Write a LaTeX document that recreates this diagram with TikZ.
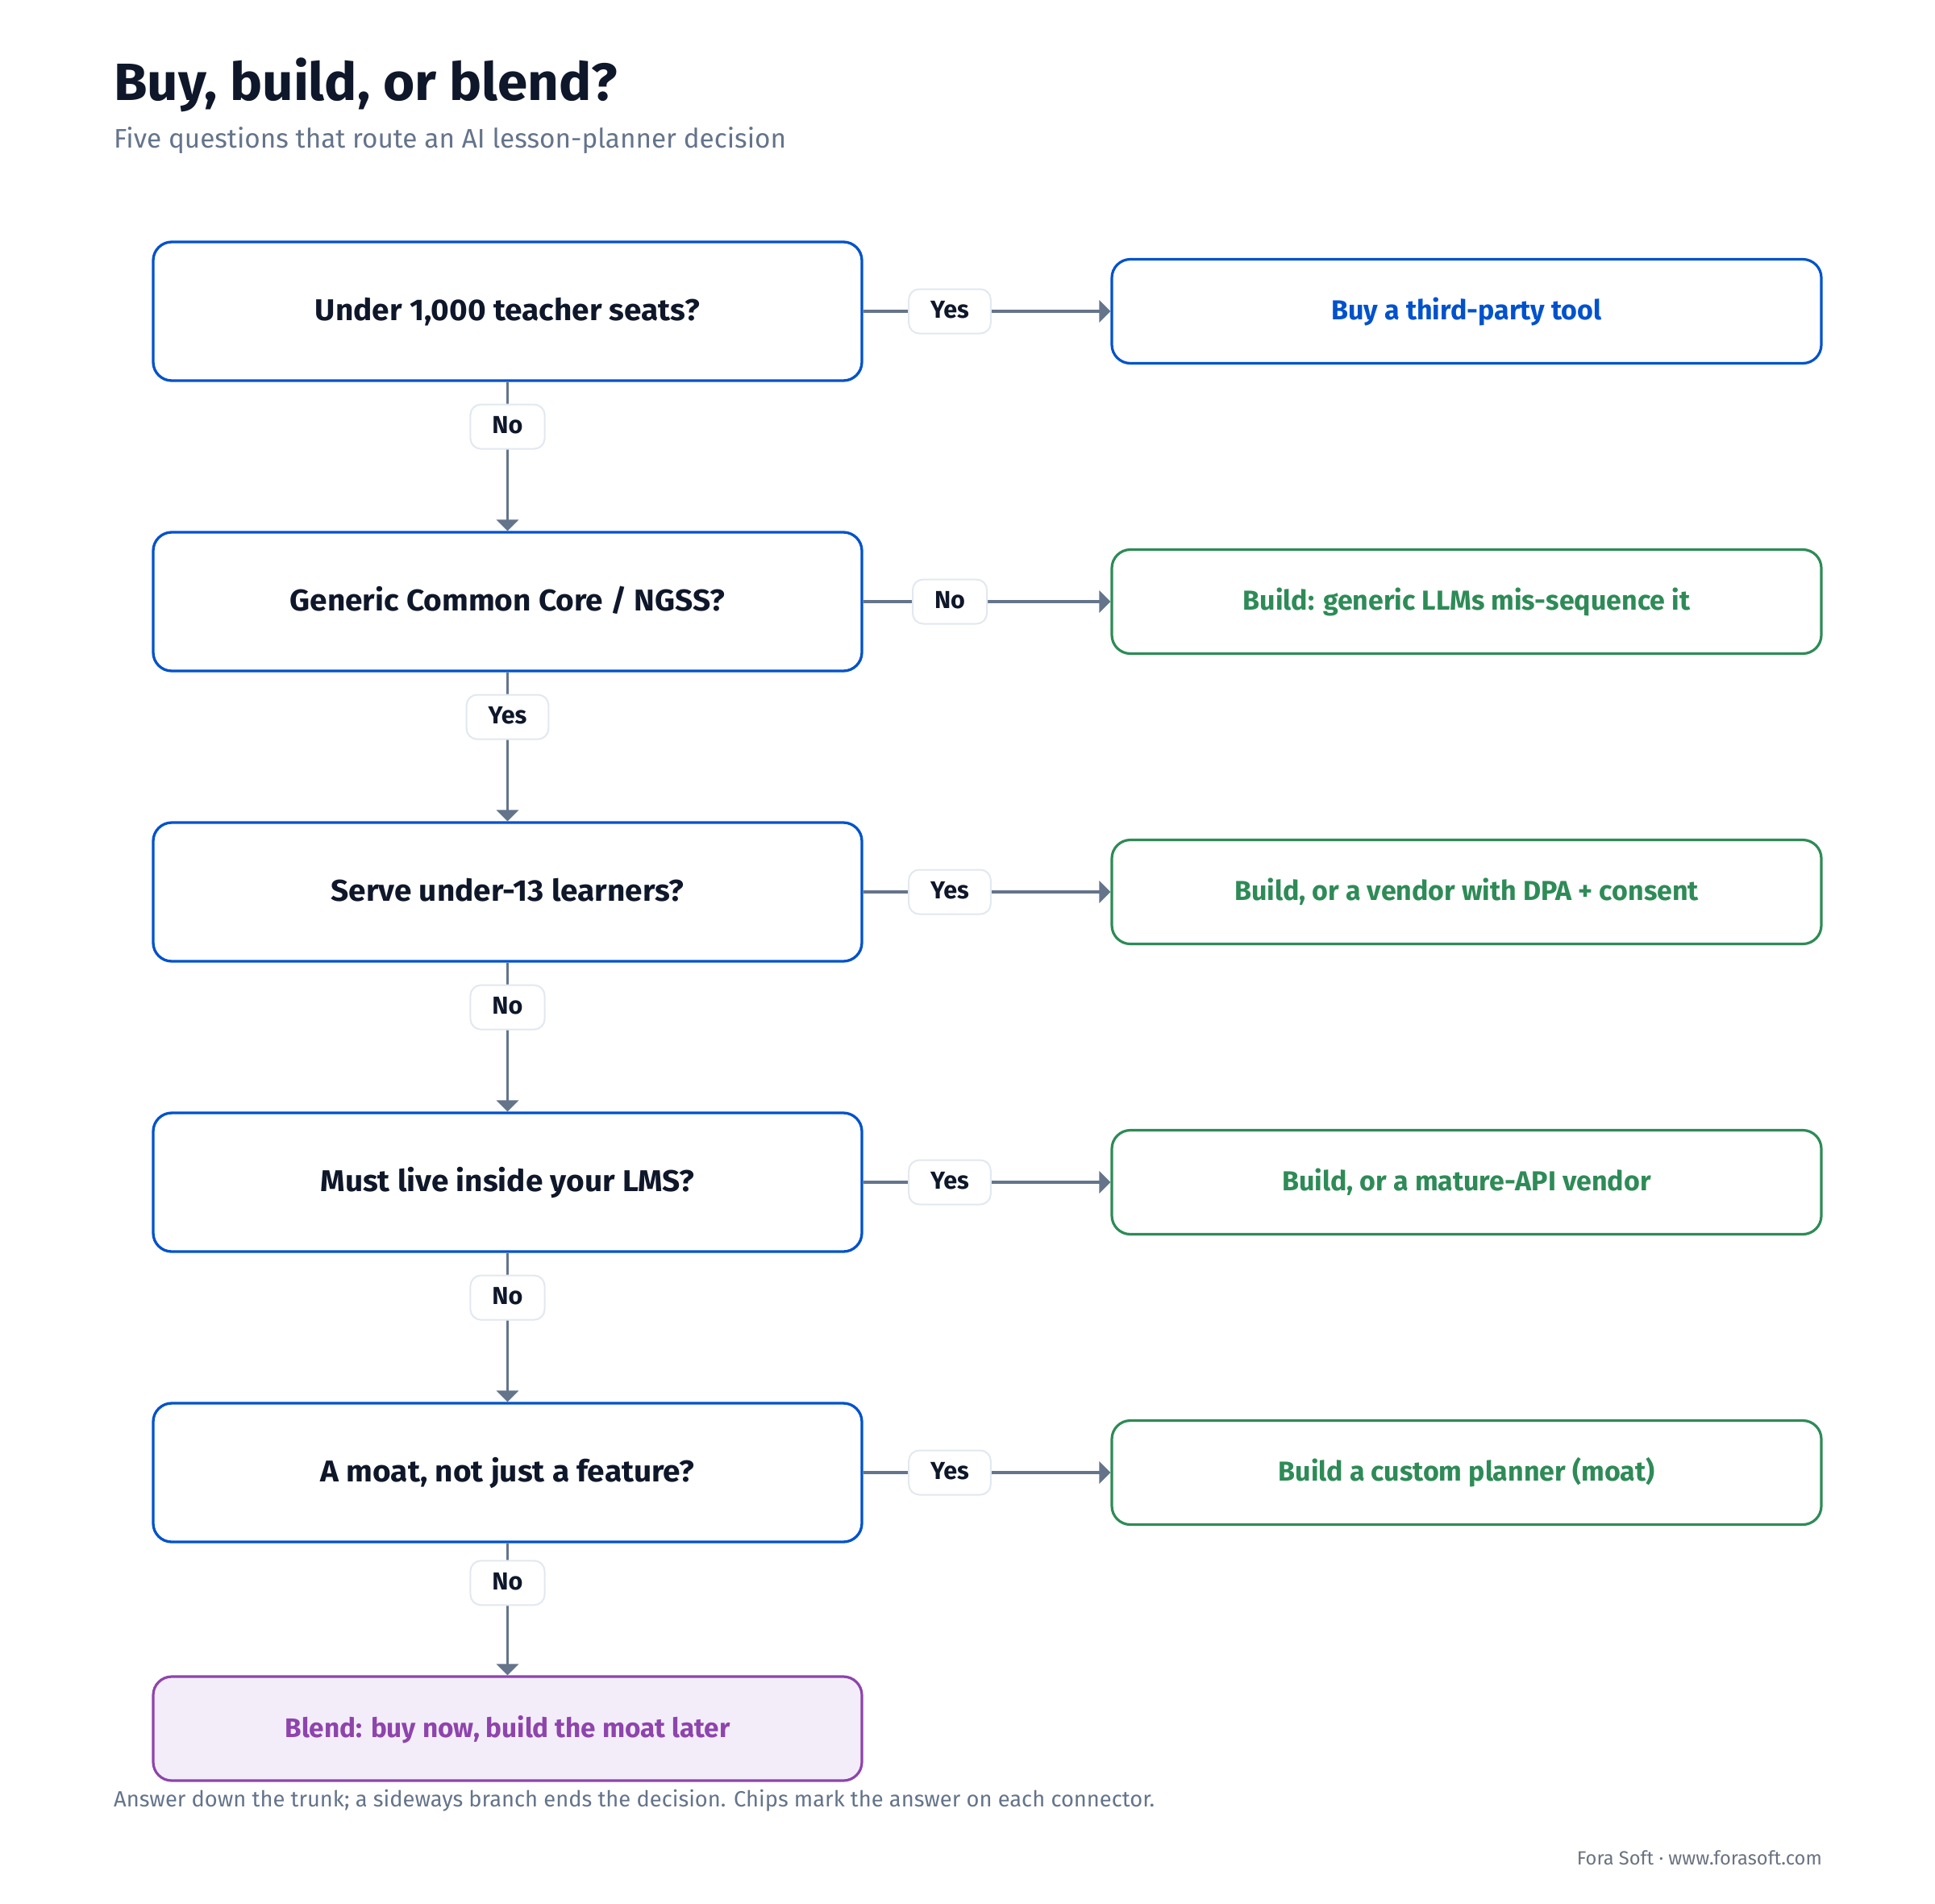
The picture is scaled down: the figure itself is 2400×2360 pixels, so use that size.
\documentclass[tikz,border=0pt]{standalone}
\usepackage{fontspec}
\setmainfont{Fira Sans}
\newfontfamily\qfont{Fira Sans}[FakeStretch=1.04]
\newfontfamily\titlefont{Fira Sans}[FakeStretch=1.035]
\usetikzlibrary{arrows.meta}
\definecolor{ink}{HTML}{0F172A}
\definecolor{slate}{HTML}{64748B}
\definecolor{qblue}{HTML}{0052CC}
\definecolor{okgreen}{HTML}{2E8B57}
\definecolor{blendpurple}{HTML}{8E44AD}
\definecolor{blendfill}{HTML}{F3EDF9}
\definecolor{chipborder}{HTML}{E2E8F0}
\definecolor{footgray}{HTML}{6B7280}
\tikzset{
  qbox/.style={draw=qblue, line width=3.3pt, rounded corners=23pt, fill=white,
    minimum width=879pt, minimum height=172pt, inner sep=0pt, text=ink,
    font=\qfont\bfseries\fontsize{37.3}{44}\selectfont,
    text height=25.7pt, text depth=2.3pt},
  rbox/.style={draw=#1, line width=3.2pt, rounded corners=23pt, fill=white,
    minimum width=880pt, minimum height=129pt, inner sep=0pt, text=#1,
    font=\bfseries\fontsize{34}{40}\selectfont,
    text height=23.4pt, text depth=2.4pt},
  bbox/.style={draw=blendpurple, line width=3.2pt, rounded corners=23pt, fill=blendfill,
    minimum width=879pt, minimum height=129pt, inner sep=0pt, text=blendpurple,
    font=\bfseries\fontsize{33.3}{40}\selectfont,
    text height=23pt, text depth=2pt},
  chip/.style={draw=chipborder, line width=2pt, rounded corners=13pt, fill=white,
    minimum height=55pt, inner xsep=27pt, inner ysep=0pt, text=ink,
    font=\bfseries\fontsize{30.5}{36}\selectfont,
    text height=21pt, text depth=4pt},
  conn/.style={draw=slate, line width=3.6pt, -{Triangle[length=14pt,width=27pt]}},
}
\begin{document}
\begin{tikzpicture}[x=1pt,y=-1pt]
\useasboundingbox[fill=white] (0,0) rectangle (2400,2360);
% titles
\node[anchor=base west, inner sep=0pt, text=ink, font=\titlefont\bfseries\fontsize{65}{72}\selectfont] (title) at (141,125) {Buy, build, or blend?};
\node[anchor=base west, inner sep=0pt, text=slate, font=\fontsize{33.3}{40}\selectfont] (sub) at (141,184) {Five questions that route an AI lesson-planner decision};
% questions
\node[qbox] (q1) at (629.5,386) {Under 1,000 teacher seats?};
\node[qbox] (q2) at (629.5,746) {Generic Common Core / NGSS?};
\node[qbox] (q3) at (629.5,1106) {Serve under-13 learners?};
\node[qbox] (q4) at (629.5,1466) {Must live inside your LMS?};
\node[qbox] (q5) at (629.5,1826) {A moat, not just a feature?};
% results
\node[rbox=qblue] (r1) at (1819,386) {Buy a third-party tool};
\node[rbox=okgreen] (r2) at (1819,746) {Build: generic LLMs mis-sequence it};
\node[rbox=okgreen] (r3) at (1819,1106) {Build, or a vendor with DPA + consent};
\node[rbox=okgreen] (r4) at (1819,1466) {Build, or a mature-API vendor};
\node[rbox=okgreen] (r5) at (1819,1826) {Build a custom planner (moat)};
\node[bbox] (b) at (629.5,2143.5) {Blend: buy now, build the moat later};
% horizontal connectors
\draw[conn] (q1.east) -- node[chip,pos=0.35] (c1) {Yes} (r1.west);
\draw[conn] (q2.east) -- node[chip,pos=0.35] (c2) {No} (r2.west);
\draw[conn] (q3.east) -- node[chip,pos=0.35] (c3) {Yes} (r3.west);
\draw[conn] (q4.east) -- node[chip,pos=0.35] (c4) {Yes} (r4.west);
\draw[conn] (q5.east) -- node[chip,pos=0.35] (c5) {Yes} (r5.west);
% vertical connectors
\draw[conn] (q1.south) -- node[chip,pos=0.3] (v1) {No} (q2.north);
\draw[conn] (q2.south) -- node[chip,pos=0.3] (v2) {Yes} (q3.north);
\draw[conn] (q3.south) -- node[chip,pos=0.3] (v3) {No} (q4.north);
\draw[conn] (q4.south) -- node[chip,pos=0.3] (v4) {No} (q5.north);
\draw[conn] (q5.south) -- node[chip,pos=0.3] (v5) {No} (b.north);
% footer
\node[anchor=base west, inner sep=0pt, text=slate, font=\fontsize{27.3}{32}\selectfont] (note) at (141,2240) {Answer down the trunk; a sideways branch ends the decision. Chips mark the answer on each connector.};
\node[anchor=base east, inner sep=0pt, text=footgray, font=\fontsize{23.7}{28}\selectfont] (brand) at (2260,2312) {Fora Soft · www.forasoft.com};
\end{tikzpicture}
\end{document}
